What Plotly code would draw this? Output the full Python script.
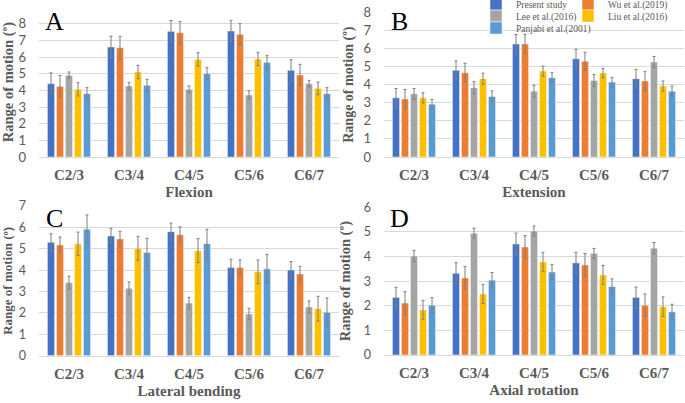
import plotly.graph_objects as go

W, H = 685, 403

levels = ["C2/3", "C3/4", "C4/5", "C5/6", "C6/7"]
studies = ["Present study", "Wu et al.(2019)", "Lee et al.(2016)", "Liu et al.(2016)", "Panjabi et al.(2001)"]
colors = ["#4472C4", "#ED7D31", "#A5A5A5", "#FFC000", "#5B9BD5"]

# Flexion (A)
flex_vals = [
    [4.40, 6.60, 7.54, 7.56, 5.20],
    [4.24, 6.56, 7.46, 7.36, 4.92],
    [4.90, 4.26, 4.06, 3.72, 4.40],
    [4.06, 5.10, 5.86, 5.88, 4.12],
    [3.80, 4.30, 5.00, 5.68, 3.80],
]
flex_err = [
    [0.65, 0.65, 0.65, 0.64, 0.64],
    [0.65, 0.68, 0.66, 0.64, 0.64],
    [0.20, 0.22, 0.20, 0.25, 0.20],
    [0.40, 0.40, 0.40, 0.40, 0.38],
    [0.36, 0.36, 0.36, 0.40, 0.36],
]
# Extension (B)
ext_vals = [
    [3.27, 4.79, 6.25, 5.43, 4.33],
    [3.20, 4.66, 6.25, 5.29, 4.20],
    [3.49, 3.83, 3.64, 4.23, 5.25],
    [3.27, 4.33, 4.75, 4.64, 3.92],
    [2.92, 3.35, 4.38, 4.14, 3.64],
]
ext_err = [
    [0.52, 0.52, 0.52, 0.52, 0.52],
    [0.53, 0.52, 0.53, 0.50, 0.52],
    [0.30, 0.33, 0.33, 0.33, 0.31],
    [0.28, 0.30, 0.28, 0.26, 0.28],
    [0.26, 0.30, 0.28, 0.26, 0.28],
]
# Lateral bending (C)
lat_vals = [
    [5.30, 5.60, 5.80, 4.12, 4.01],
    [5.18, 5.46, 5.66, 4.12, 3.82],
    [3.42, 3.15, 2.46, 1.95, 2.28],
    [5.23, 5.02, 4.91, 3.92, 2.20],
    [5.91, 4.82, 5.24, 4.06, 2.03],
]
lat_err = [
    [0.40, 0.36, 0.40, 0.39, 0.39],
    [0.37, 0.36, 0.36, 0.36, 0.36],
    [0.30, 0.30, 0.27, 0.27, 0.28],
    [0.55, 0.56, 0.56, 0.55, 0.58],
    [0.67, 0.67, 0.67, 0.67, 0.67],
]
# Axial rotation (D)
axi_vals = [
    [2.34, 3.32, 4.51, 3.74, 2.34],
    [2.11, 3.13, 4.39, 3.66, 2.02],
    [4.02, 4.95, 5.04, 4.13, 4.34],
    [1.83, 2.48, 3.78, 3.25, 1.96],
    [2.02, 3.04, 3.37, 2.78, 1.75],
]
axi_err = [
    [0.41, 0.43, 0.44, 0.43, 0.42],
    [0.46, 0.46, 0.46, 0.46, 0.46],
    [0.23, 0.20, 0.20, 0.20, 0.23],
    [0.39, 0.39, 0.39, 0.39, 0.40],
    [0.31, 0.31, 0.31, 0.31, 0.31],
]

panels = [
    dict(vals=flex_vals, err=flex_err, title="Flexion", letter="A", ymax=9),
    dict(vals=ext_vals, err=ext_err, title="Extension", letter="B", ymax=8),
    dict(vals=lat_vals, err=lat_err, title="Lateral bending", letter="C", ymax=7),
    dict(vals=axi_vals, err=axi_err, title="Axial rotation", letter="D", ymax=6),
]

# pixel layout: (x0, x1, ybottom_px, ytop_px)
boxes = [
    (39, 339, 157, 7),
    (384, 684, 157, 12.3),
    (39, 339, 355.7, 206),
    (384, 684, 355, 207.3),
]
letter_pos = [(54, 22), (400, 22), (54, 218), (400, 218)]
tick_size = [13, 13, 12.5, 12.5]
ytitle_size = [14.5, 14, 13, 14.5]
ytitle_standoff = [4, 6, 5, 9]

fig = go.Figure()
legend_names = ["legend", "legend2", "legend3", "legend4", "legend5"]

for p_i, p in enumerate(panels):
    ax = "" if p_i == 0 else str(p_i + 1)
    for s_i, s in enumerate(studies):
        fig.add_trace(go.Bar(
            x=levels, y=p["vals"][s_i], name=s,
            marker=dict(color=colors[s_i], line=dict(width=0.5, color="white")),
            error_y=dict(type="data", array=p["err"][s_i], color="#7F7F7F",
                         thickness=1, width=1.5),
            xaxis="x" + ax, yaxis="y" + ax,
            showlegend=(p_i == 0),
            legend=legend_names[s_i],
        ))

layout = dict(
    width=W, height=H,
    margin=dict(l=0, r=0, t=0, b=0, autoexpand=False),
    paper_bgcolor="white", plot_bgcolor="white",
    barmode="group", bargap=0.25, bargroupgap=0.2,
)

for p_i, p in enumerate(panels):
    ax = "" if p_i == 0 else str(p_i + 1)
    x0, x1, yb, yt = boxes[p_i]
    layout["xaxis" + ax] = dict(
        domain=[x0 / W, x1 / W], anchor="y" + ax,
        showline=True, linecolor="#D9D9D9", linewidth=1, ticks="",
        tickfont=dict(family="Liberation Serif", size=15, color="#595959", weight="bold"),
        ticklabelstandoff=4,
        title=dict(text=p["title"], standoff=4,
                   font=dict(family="Liberation Serif", size=15, color="#595959", weight="bold")),
        fixedrange=True,
    )
    layout["yaxis" + ax] = dict(
        domain=[(H - yb) / H, (H - yt) / H], anchor="x" + ax,
        range=[0, p["ymax"]], dtick=1, showgrid=True, gridcolor="#D9D9D9",
        zeroline=False, showline=False, ticks="",
        tickfont=dict(family="Lato", size=tick_size[p_i], color="#595959"),
        ticklabelstandoff=12,
        title=dict(text="Range of motion (º)", standoff=ytitle_standoff[p_i],
                   font=dict(family="Liberation Serif", size=ytitle_size[p_i], color="#595959", weight="bold")),
        fixedrange=True,
    )

# five single-entry legends laid out as a 2-column grid
leg_pos = [(476, 4), (568, 4), (476, 16), (568, 16), (476, 28)]
for i, name in enumerate(legend_names):
    lx, ly = leg_pos[i]
    layout[name] = dict(
        x=lx / W, y=(H - ly) / H, xanchor="left", yanchor="middle",
        bgcolor="rgba(0,0,0,0)", orientation="h",
        font=dict(family="Liberation Serif", size=9.5, color="#595959"),
        itemclick=False, itemdoubleclick=False,
    )

annotations = []
for p_i, p in enumerate(panels):
    lx, ly = letter_pos[p_i]
    annotations.append(dict(
        text=p["letter"], x=lx / W, y=(H - ly) / H, xref="paper", yref="paper",
        showarrow=False, xanchor="center", yanchor="middle",
        font=dict(family="Liberation Serif", size=26, color="black"),
    ))
layout["annotations"] = annotations

fig.update_layout(**layout)
fig.write_html(
    "out.html",
    config={"displayModeBar": False},
    post_script="document.body.style.margin='0';document.body.style.overflow='hidden';",
)
